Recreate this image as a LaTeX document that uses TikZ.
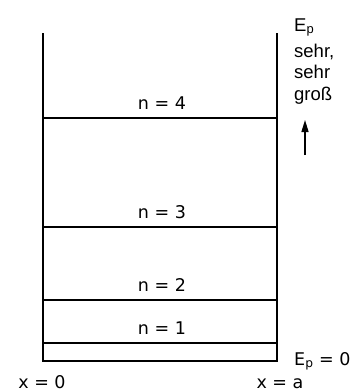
\documentclass[tikz,border=0pt]{standalone}
\usepackage{fontspec}
\setmainfont{Liberation Sans}
\newfontfamily\eqfont{DejaVu Sans}
\usetikzlibrary{arrows.meta,positioning}

\begin{document}
\begin{tikzpicture}[
    x=1pt, y=-1pt,
    wall/.style={draw=black, line width=2.5pt},
    level/.style={draw=black, line width=2.2pt},
    lbl/.style={font=\fontsize{18.5}{21.5}\selectfont, inner sep=0pt, anchor=base west},
    eqlbl/.style={font=\eqfont\fontsize{17.5}{21}\selectfont, inner sep=0pt, anchor=base},
    >={Triangle[length=12pt,width=7pt]}
]
\useasboundingbox (0,0) rectangle (359,391);
% well
\coordinate (lt) at (43,33);
\coordinate (lb) at (43,361);
\coordinate (rb) at (277,361);
\coordinate (rt) at (277,33);
\draw[wall] (lt) -- (lb) -- (rb) -- (rt);
% energy levels
\foreach \n/\y in {1/343,2/300,3/227,4/118}{
  \coordinate (l\n) at (43,\y);
  \coordinate (r\n) at (277,\y);
  \draw[level] (l\n) -- (r\n);
  \node[eqlbl] (n\n) at (162,\y-8.5) {n = \n};
}
% labels
\node[lbl] (ep) at (294,31) {E\textsubscript{p}};
\node[lbl, align=left] (gross) at (294,100) {sehr,\\sehr\\groß};
\coordinate (abot) at (305,155);
\coordinate (atop) at (305,120);
\draw[->, line width=1.4pt] (abot) -- (atop);
\node[eqlbl, anchor=base west] (ep0) at (294,365) {E\textsubscript{p} = 0};
\node[eqlbl] (x0) at (42,388) {x = 0};
\node[eqlbl] (xa) at (280,388) {x = a};
\end{tikzpicture}
\end{document}
